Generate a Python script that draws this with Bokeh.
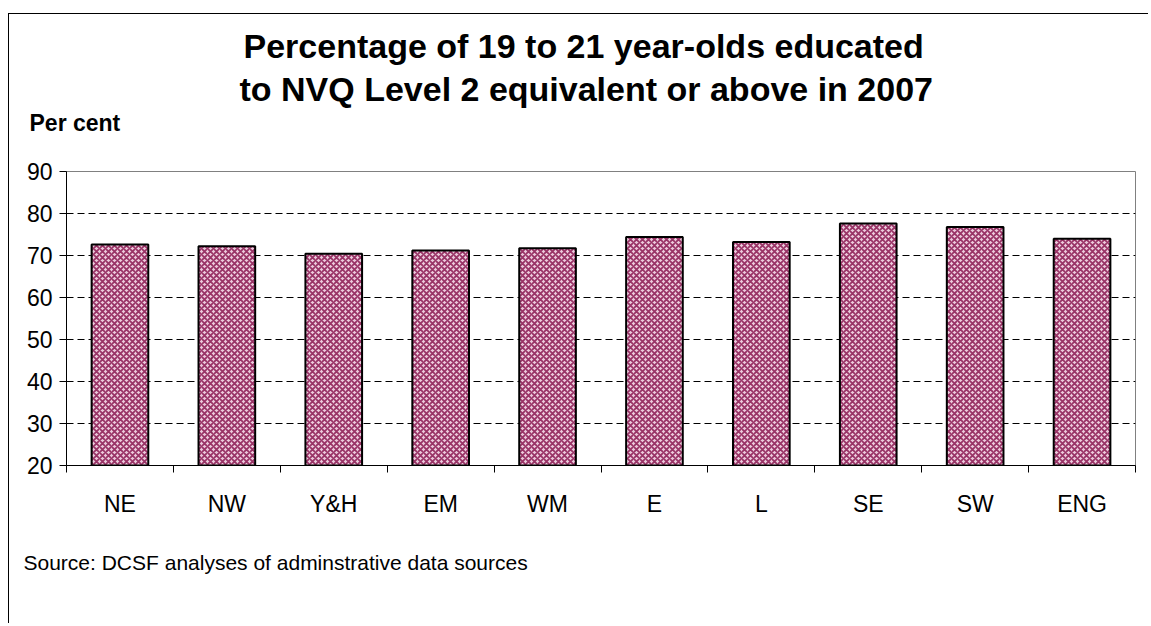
from bokeh.plotting import figure
from bokeh.models import Range1d, FixedTicker, Title
from bokeh.embed import file_html
from bokeh.resources import INLINE

# ---- data ----
regions = ["NE", "NW", "Y&H", "EM", "WM", "E", "L", "SE", "SW", "ENG"]
pct = [72.6, 72.2, 70.4, 71.2, 71.7, 74.4, 73.2, 77.6, 76.8, 74.0]
y_ticks = [20, 30, 40, 50, 60, 70, 80, 90]
title_lines = ["Percentage of 19 to 21 year-olds educated",
               "to NVQ Level 2 equivalent or above in 2007"]
y_unit = "Per cent"
source_note = "Source: DCSF analyses of adminstrative data sources"

FONT = "Liberation Sans"
W, H = 1140, 610

n = len(regions)
centers = [i + 0.5 for i in range(n)]
bounds = list(range(n + 1))

p = figure(width=W, height=H, output_backend="svg", toolbar_location=None,
           x_range=Range1d(0, n), y_range=Range1d(y_ticks[0], y_ticks[-1]),
           min_border_left=57, min_border_right=14,
           min_border_top=157, min_border_bottom=159)
p.styles = {"border-left": "1px solid #000000", "border-top": "1px solid #000000",
            "margin-top": "13px", "margin-left": "8px"}
p.outline_line_color = "#808080"
p.outline_line_width = 1
p.background_fill_color = "white"
p.border_fill_color = "white"

# bars
p.vbar(x=centers, top=pct, bottom=y_ticks[0], width=0.53,
       fill_color="#eccbdc", hatch_pattern="diagonal_cross",
       hatch_color="#993366", hatch_scale=6, hatch_weight=1.8,
       line_color="black", line_width=2)

# x axis: labels at centers, ticks at category boundaries
xa = p.xaxis[0]
xa.ticker = FixedTicker(ticks=centers, minor_ticks=bounds)
xa.major_label_overrides = {c: r for c, r in zip(centers, regions)}
xa.major_tick_out = 0
xa.major_tick_in = 0
xa.minor_tick_out = 7
xa.minor_tick_in = 0
xa.minor_tick_line_color = "black"
xa.axis_line_color = "black"
xa.major_label_text_font = FONT
xa.major_label_text_font_size = "23px"
xa.major_label_text_color = "black"
xa.major_label_standoff = 18

ya = p.yaxis[0]
ya.ticker = FixedTicker(ticks=y_ticks)
ya.major_tick_out = 7
ya.major_tick_in = 0
ya.minor_tick_line_color = None
ya.axis_line_color = "black"
ya.major_tick_line_color = "black"
ya.major_label_text_font = FONT
ya.major_label_text_font_size = "23px"
ya.major_label_text_color = "black"
ya.major_label_standoff = 7

p.xgrid.visible = False
p.ygrid.ticker = FixedTicker(ticks=y_ticks)
p.ygrid.grid_line_color = "black"
p.ygrid.grid_line_dash = "7 4"
p.ygrid.grid_line_width = 1

# texts above the frame (first added is closest to the frame)
p.add_layout(Title(text=" ", align="left", standoff=12,
                   text_font=FONT, text_font_size="20px"), "above")  # spacer
p.add_layout(Title(text=y_unit, align="left", offset=-37, standoff=0,
                   text_font=FONT, text_font_size="23px", text_font_style="bold",
                   text_color="black"), "above")
p.add_layout(Title(text=title_lines[1], align="left", offset=173, standoff=0,
                   text_font=FONT, text_font_size="34px", text_font_style="bold",
                   text_color="black"), "above")
p.add_layout(Title(text=title_lines[0], align="left", offset=177, standoff=6,
                   text_font=FONT, text_font_size="34px", text_font_style="bold",
                   text_color="black"), "above")
# source note below the axis
p.add_layout(Title(text=source_note, align="left", offset=-43, standoff=58,
                   text_font=FONT, text_font_size="21px", text_font_style="normal",
                   text_color="black"), "below")

open("out.html", "w").write(file_html(p, INLINE))
